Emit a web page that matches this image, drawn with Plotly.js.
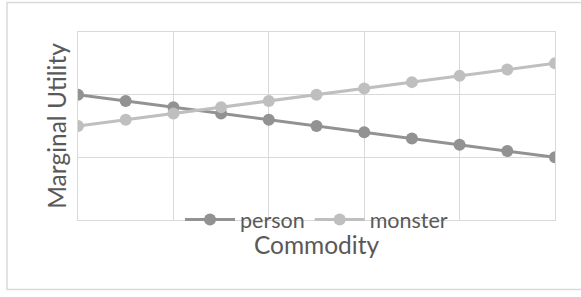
<!DOCTYPE html>
<html>
<head>
<meta charset="utf-8">
<script src="https://cdn.plot.ly/plotly-3.0.1.min.js"></script>
<style>
html,body{margin:0;padding:0;background:#fff;}
#chart{width:581px;height:297px;}
</style>
</head>
<body>
<div id="chart"></div>
<script>
var commodity = [1, 2, 3, 4, 5, 6, 7, 8, 9, 10, 11];
var person = [2.0, 1.9, 1.8, 1.7, 1.6, 1.5, 1.4, 1.3, 1.2, 1.1, 1.0];
var monster = [1.5, 1.6, 1.7, 1.8, 1.9, 2.0, 2.1, 2.2, 2.3, 2.4, 2.5];
var seriesNames = ["person", "monster"];
var xTitle = "Commodity";
var yTitle = "Marginal Utility";

var font = "Lato, 'Open Sans', sans-serif";
var traces = [
  {x: commodity, y: person, name: seriesNames[0], mode: "lines+markers",
   line: {color: "#929292", width: 3}, marker: {color: "#929292", size: 12}},
  {x: commodity, y: monster, name: seriesNames[1], mode: "lines+markers",
   line: {color: "#bfbfbf", width: 3}, marker: {color: "#bfbfbf", size: 12}}
];
var axisCommon = {showticklabels: false, ticks: "", showgrid: true, gridcolor: "#d9d9d9",
  gridwidth: 1.3, zeroline: false, showline: true, mirror: true, linecolor: "#d9d9d9", linewidth: 1.3};
var layout = {
  width: 581, height: 297,
  margin: {l: 78, r: 26, t: 32, b: 77},
  paper_bgcolor: "#fff", plot_bgcolor: "#fff",
  font: {family: font, color: "#595959", size: 21.5},
  xaxis: Object.assign({range: [1, 11], tick0: 1, dtick: 2,
          title: {text: xTitle, font: {size: 24.5, color: "#595959"}, standoff: 16}}, axisCommon),
  yaxis: Object.assign({range: [0, 3], tick0: 0, dtick: 1,
          title: {text: yTitle, font: {size: 24.5, color: "#595959"}, standoff: 3}}, axisCommon),
  legend: {orientation: "h", x: 0.5, xanchor: "center", y: 0.003, yanchor: "middle",
           bgcolor: "rgba(0,0,0,0)", font: {size: 21.5, color: "#595959"},
           itemwidth: 50},
  showlegend: true,
  shapes: [{type: "rect", xref: "paper", yref: "paper",
            x0: (7 - 78) / 477, x1: (590 - 78) / 477,
            y0: (220 - 289.5) / 188, y1: (220 - 2.5) / 188,
            line: {color: "#d9d9d9", width: 1.5}, fillcolor: "rgba(0,0,0,0)", layer: "below"}]
};
Plotly.newPlot("chart", traces, layout, {displayModeBar: false, staticPlot: true});
</script>
</body>
</html>
